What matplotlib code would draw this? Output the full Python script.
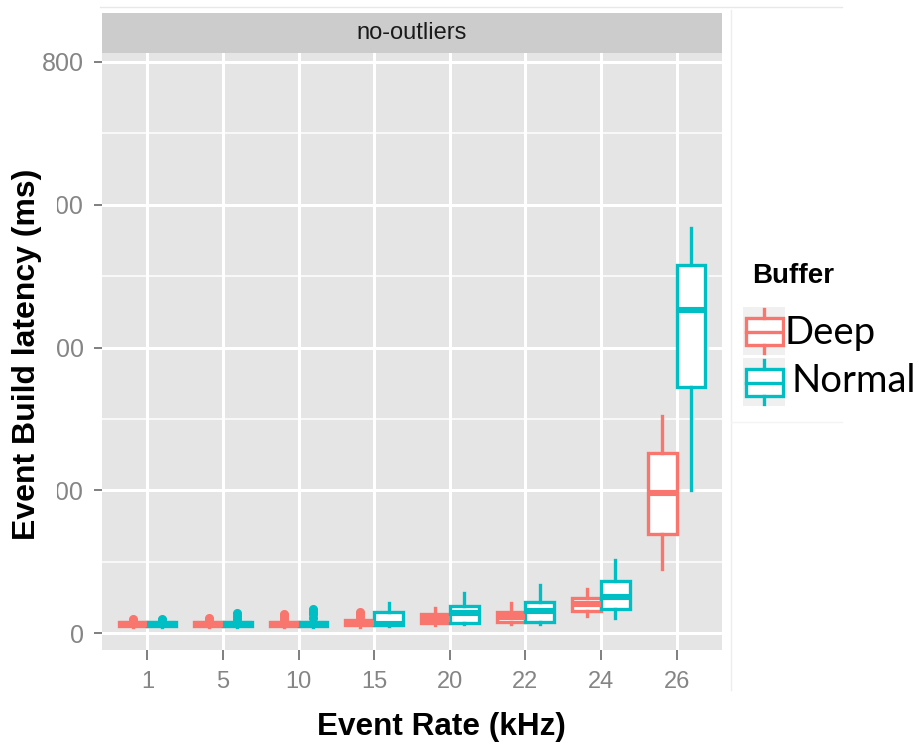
import matplotlib
matplotlib.use("Agg")
import matplotlib.pyplot as plt
from matplotlib.patches import Rectangle
from matplotlib.lines import Line2D

plt.rcParams['font.family'] = ['Liberation Sans', 'DejaVu Sans']

rates = ["1", "5", "10", "15", "20", "22", "24", "26"]
buffers = ["Deep", "Normal"]
colors = {"Deep": "#F8766D", "Normal": "#00BFC4"}

# box summaries (ms)
deep_whislo = [8, 8, 8, 9, 11, 13, 24, 90]
deep_q1 = [10, 10, 10, 11, 14, 15, 31, 139]
deep_med = [13, 13, 13, 14, 19, 22, 41, 196]
deep_q3 = [16, 16, 16, 18, 26, 29, 49, 252]
deep_whishi = [18, 18, 18, 20, 35, 42, 62, 304]
deep_fliers = [[17, 19], [18, 21], [20, 24, 27], [22, 26, 30], [], [], [], []]

normal_whislo = [8, 8, 8, 10, 12, 13, 21, 200]
normal_q1 = [10, 10, 10, 11, 14, 15, 34, 345]
normal_med = [13, 13, 13, 13, 28, 31, 50, 452]
normal_q3 = [16, 16, 16, 29, 38, 43, 73, 516]
normal_whishi = [18, 18, 18, 42, 56, 67, 102, 567]
normal_fliers = [[18, 20], [20, 24, 28], [21, 26, 30, 34], [], [], [], [], []]

yticks = [0, 200, 400, 600, 800]
ytick_labels = ["0", "200", "400", "600", "800"]

W, H = 920, 745
fig = plt.figure(figsize=(W / 100, H / 100), dpi=100)


def fx(px):
    return px / W


def fy(py):
    return 1 - py / H


ax = fig.add_axes([fx(102), fy(650), fx(722) - fx(102), fy(53) - fy(650)])
ax.set_facecolor("#E5E5E5")

data = {
    "Deep": (deep_whislo, deep_q1, deep_med, deep_q3, deep_whishi, deep_fliers),
    "Normal": (normal_whislo, normal_q1, normal_med, normal_q3, normal_whishi, normal_fliers),
}
offsets = {"Deep": -0.19, "Normal": 0.19}

for b in buffers:
    lo, q1, med, q3, hi, fl = data[b]
    stats = []
    for i in range(len(rates)):
        stats.append(dict(whislo=lo[i], q1=q1[i], med=med[i], q3=q3[i],
                          whishi=hi[i], fliers=fl[i]))
    c = colors[b]
    ax.bxp(stats, positions=[i + offsets[b] for i in range(len(rates))],
           widths=0.38, patch_artist=True, showcaps=False,
           boxprops=dict(facecolor="white", edgecolor=c, linewidth=2.4),
           medianprops=dict(color=c, linewidth=4.4, solid_capstyle="butt"),
           whiskerprops=dict(color=c, linewidth=2.4),
           flierprops=dict(marker="o", markerfacecolor=c, markeredgecolor=c,
                           markersize=5.5),
           zorder=3)

ax.set_xlim(-0.6, 7.6)
ax.set_ylim(-23.8, 812.6)
ax.set_xticks(range(len(rates)))
ax.set_xticklabels(rates)
ax.set_yticks(yticks)
ax.set_yticklabels(ytick_labels)
ax.set_yticks([100, 300, 500, 700], minor=True)
ax.set_axisbelow(True)
ax.grid(which="major", color="white", linewidth=2.2)
ax.grid(which="minor", axis="y", color="white", linewidth=1.1)
for s in ax.spines.values():
    s.set_visible(False)
ax.tick_params(which="major", axis="both", color="#7F7F7F", width=1.4,
               labelcolor="#858585", labelsize=17)
ax.tick_params(axis="x", length=7, pad=8)
ax.tick_params(axis="y", length=6, pad=7, labelsize=18)
ax.tick_params(which="minor", length=0)

# facet strip
sax = fig.add_axes([fx(102), fy(53), fx(722) - fx(102), fy(13) - fy(53)])
sax.set_facecolor("#CCCCCC")
sax.set_xticks([])
sax.set_yticks([])
for s in sax.spines.values():
    s.set_visible(False)
sax.text(0.5, 0.5, "no-outliers", ha="center", va="center",
         fontsize=17, color="#1A1A1A", transform=sax.transAxes)

# white cover pasted over the left of the y labels
fig.add_artist(Rectangle((0, 0), fx(40), 1, transform=fig.transFigure,
                         facecolor="white", edgecolor="none", zorder=5))
fig.add_artist(Rectangle((0, fy(560)), fx(57), fy(110) - fy(560),
                         transform=fig.transFigure, facecolor="white",
                         edgecolor="none", zorder=5))

# faint edges of the pasted pieces
fig.add_artist(Line2D([fx(100), fx(842)], [fy(7), fy(7)], transform=fig.transFigure,
                      color="#E8E8E8", linewidth=1, zorder=5))
fig.add_artist(Line2D([fx(731), fx(731)], [fy(10), fy(690)], transform=fig.transFigure,
                      color="#EDEDED", linewidth=1, zorder=5))
fig.add_artist(Line2D([fx(731), fx(842)], [fy(422), fy(422)], transform=fig.transFigure,
                      color="#F4F4F4", linewidth=1, zorder=5))

fig.text(fx(441), fy(727), "Event Rate (kHz)", ha="center", va="center",
         fontsize=22.7, fontweight="bold", color="black", zorder=6)
fig.text(fx(27), fy(354), "Event Build latency (ms)", ha="center", va="center",
         rotation=90, fontsize=23, fontweight="bold", color="black", zorder=6)

# legend
fig.text(fx(752), fy(276), "Buffer", ha="left", va="center", fontsize=20,
         fontweight="bold", color="black", zorder=6)
lax = fig.add_axes([fx(743), fy(407), fx(785) - fx(743), fy(307) - fy(407)])
lax.set_xlim(0, 42)
lax.set_ylim(100, 0)
lax.axis("off")
for row, b in enumerate(buffers):
    c = colors[b]
    top = row * 51
    lax.add_patch(Rectangle((0, top), 42, 48, facecolor="#F0F0F0", edgecolor="none"))
    lax.add_patch(Rectangle((3, top + 11), 37, 27, facecolor="white", edgecolor=c,
                            linewidth=2.4))
    lax.plot([3, 40], [top + 25, top + 25], color=c, linewidth=2.4)
    lax.plot([21.5, 21.5], [top + 2, top + 11], color=c, linewidth=2.4)
    lax.plot([21.5, 21.5], [top + 38, top + 46], color=c, linewidth=2.4)
fig.text(fx(785), fy(333), "Deep", ha="left", va="center", fontsize=27.5,
         family=["Lato", "DejaVu Sans"], color="black", zorder=6)
fig.text(fx(792), fy(381), "Normal", ha="left", va="center", fontsize=27.5,
         family=["Lato", "DejaVu Sans"], color="black", zorder=6)

fig.savefig("out.png", dpi=100, facecolor="white")
